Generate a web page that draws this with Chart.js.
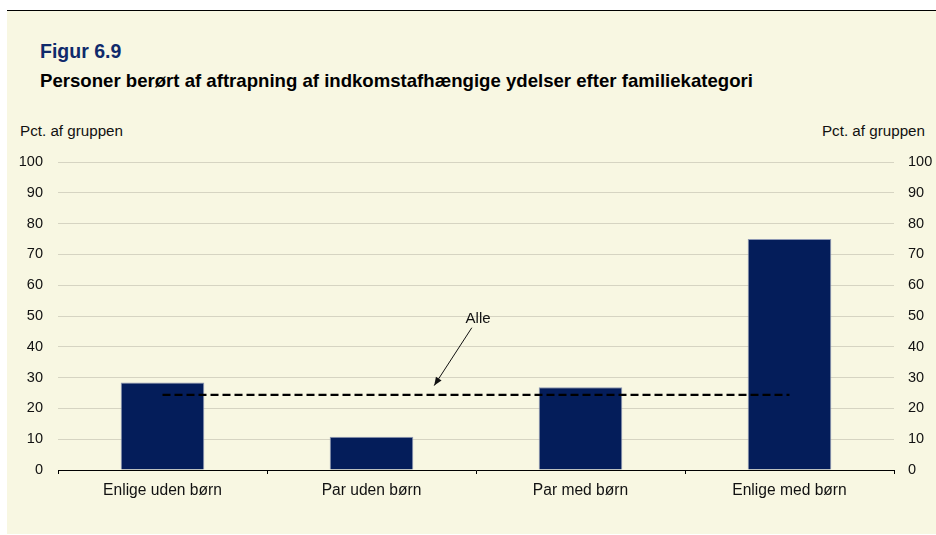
<!DOCTYPE html>
<html lang="da">
<head>
<meta charset="utf-8">
<title>Figur 6.9</title>
<script src="https://cdn.jsdelivr.net/npm/chart.js@4.4.1/dist/chart.umd.min.js"></script>
<style>
  html, body { margin: 0; padding: 0; background: #ffffff; }
  body { width: 936px; height: 535px; position: relative; overflow: hidden;
         font-family: "Liberation Sans", Arial, sans-serif; }
  #rule { position: absolute; left: 7px; top: 10px; width: 929px; height: 1px; background: #000; }
  #panel { position: absolute; left: 7px; top: 11px; width: 929px; height: 523px; background: #f8f7e2; }
  #fig { position: absolute; left: 40px; top: 40px; font-size: 19.5px; font-weight: bold; color: #0f2a6b; }
  #sub { position: absolute; left: 40px; top: 70px; font-size: 18.6px; font-weight: bold; color: #000; white-space: nowrap; }
  .unit { position: absolute; top: 122px; font-size: 15.2px; color: #111; white-space: nowrap; }
  #unitL { left: 20px; }
  #unitR { right: 11px; }
  #c { position: absolute; left: 0; top: 0; }
</style>
</head>
<body>
<div id="rule"></div>
<div id="panel"></div>
<div id="fig">Figur 6.9</div>
<div id="sub">Personer berørt af aftrapning af indkomstafhængige ydelser efter familiekategori</div>
<div class="unit" id="unitL">Pct. af gruppen</div>
<div class="unit" id="unitR">Pct. af gruppen</div>
<canvas id="c" width="936" height="535"></canvas>
<script>
// Family categories and share of each group affected (pct.)
const categories = ["Enlige uden børn", "Par uden børn", "Par med børn", "Enlige med børn"];
const affectedShare = [28.4, 10.8, 26.9, 75.0];
// Average over all persons, drawn as a dashed reference line
const allLevel = [24.4, 24.4, 24.4, 24.4];
const yTicks = [0, 10, 20, 30, 40, 50, 60, 70, 80, 90, 100];

// Annotation "Alle" with an arrow pointing at the dashed line (data coordinates)
const alleLabel = { x: 1.51, y: 49.0, text: "Alle" };
const alleArrow = { from: { x: 1.48, y: 46.2 }, to: { x: 1.30, y: 27.4 } };

const FONT = "'Liberation Sans', Arial, sans-serif";

const annotate = {
  id: "alleAnnotation",
  afterDatasetsDraw(chart) {
    const { ctx, scales } = chart;
    const xs = scales.x, ys = scales.y;
    // category index -> pixel, interpolating between category centres
    const px = v => {
      const i = Math.floor(v), f = v - i;
      const a = xs.getPixelForValue(i), b = xs.getPixelForValue(i + 1);
      return a + (b - a) * f;
    };
    ctx.save();
    ctx.fillStyle = "#111";
    ctx.font = "15px " + FONT;
    ctx.textAlign = "center";
    ctx.textBaseline = "middle";
    ctx.fillText(alleLabel.text, px(alleLabel.x), ys.getPixelForValue(alleLabel.y));

    const x1 = px(alleArrow.from.x), y1 = ys.getPixelForValue(alleArrow.from.y);
    const x2 = px(alleArrow.to.x), y2 = ys.getPixelForValue(alleArrow.to.y);
    ctx.strokeStyle = "#111";
    ctx.lineWidth = 1;
    ctx.beginPath();
    ctx.moveTo(x1, y1);
    ctx.lineTo(x2, y2);
    ctx.stroke();
    const ang = Math.atan2(y2 - y1, x2 - x1);
    const L = 9, W = 0.38;
    ctx.beginPath();
    ctx.moveTo(x2, y2);
    ctx.lineTo(x2 - L * Math.cos(ang - W), y2 - L * Math.sin(ang - W));
    ctx.lineTo(x2 - L * Math.cos(ang + W), y2 - L * Math.sin(ang + W));
    ctx.closePath();
    ctx.fill();
    ctx.restore();
  }
};

const yAxisCommon = {
  min: 0, max: 100,
  afterBuildTicks(scale) { scale.ticks = yTicks.map(v => ({ value: v })); },
  ticks: { color: "#111", font: { family: FONT, size: 14.5 }, padding: 15 },
  border: { display: false },
};

new Chart(document.getElementById("c"), {
  data: {
    labels: categories,
    datasets: [
      {
        type: "line",
        label: "Alle",
        data: allLevel,
        borderColor: "#000",
        borderWidth: 2.2,
        borderDash: [8, 4],
        pointRadius: 0,
        fill: false,
        order: 0
      },
      {
        type: "bar",
        label: "Andel",
        data: affectedShare,
        backgroundColor: "#041d5a",
        borderColor: "#8e98b4",
        borderWidth: 1,
        borderSkipped: "bottom",
        categoryPercentage: 1.0,
        barPercentage: 0.4,
        order: 1
      }
    ]
  },
  options: {
    responsive: false,
    animation: false,
    events: [],
    layout: { padding: { top: 162, left: 0, right: 0, bottom: 0 } },
    plugins: { legend: { display: false }, tooltip: { enabled: false } },
    scales: {
      x: {
        type: "category",
        offset: true,
        grid: { offset: true, drawOnChartArea: false, color: "#000", tickLength: 4, tickWidth: 1 },
        border: { display: true, color: "#000", width: 1 },
        ticks: { color: "#111", font: { family: FONT, size: 15.6 }, padding: 7, maxRotation: 0 },
        afterFit(scale) { scale.height = 65; }
      },
      y: Object.assign({}, yAxisCommon, {
        position: "left",
        grid: { color: "#d6d4c2", lineWidth: 1, drawTicks: false },
        afterFit(scale) { scale.width = 58; }
      }),
      y2: Object.assign({}, yAxisCommon, {
        position: "right",
        grid: { display: false, drawTicks: false },
        ticks: Object.assign({}, yAxisCommon.ticks, { padding: 14 }),
        afterFit(scale) { scale.width = 42; }
      })
    }
  },
  plugins: [annotate]
});
</script>
</body>
</html>
